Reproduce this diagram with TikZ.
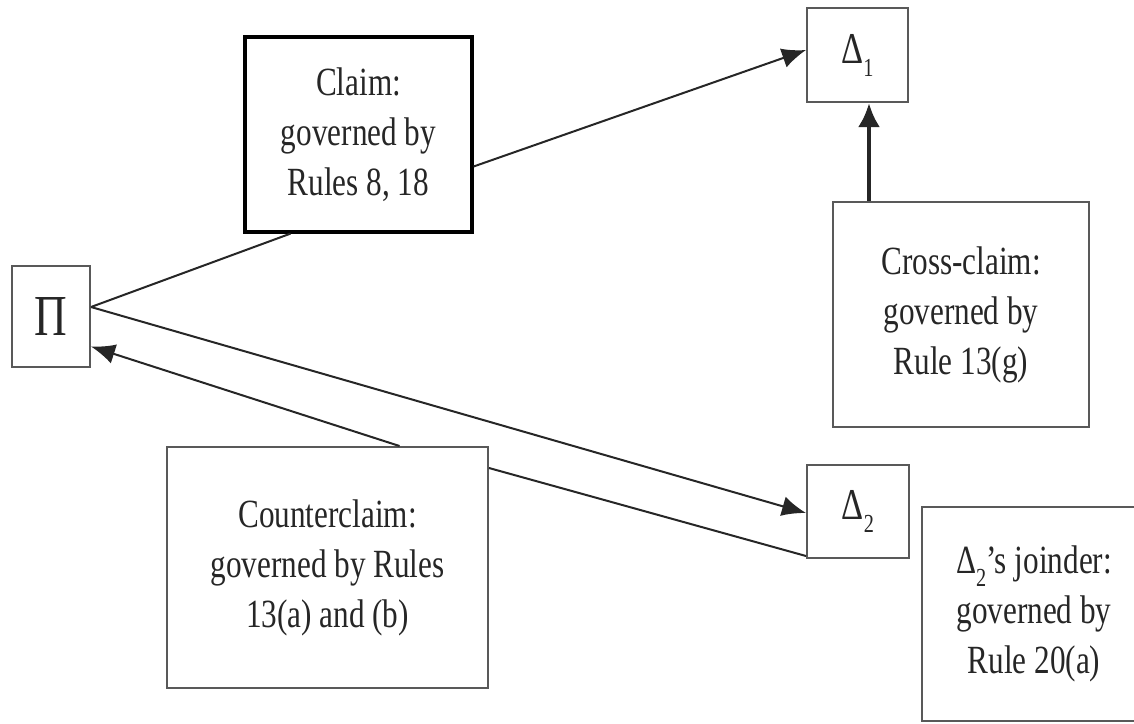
\documentclass[tikz,border=0pt]{standalone}
\usepackage{fontspec}
\setmainfont{Liberation Serif}[FakeStretch=0.78]
\usetikzlibrary{arrows.meta}

\newcommand{\dsub}[1]{\raisebox{-6.5pt}{\fontsize{13}{13}\selectfont #1}}

\begin{document}
\begin{tikzpicture}[
		x=0.5pt, y=-0.5pt,
		box/.style	={ draw=black!65, line width=1pt, inner sep=0pt,
			align=center, text=black!85,
			font=\fontsize{20}{25}\selectfont,
		},
		claimbox/.style	={ box, draw=black, line width=1.6pt,
		},
		wire/.style	={ line width=1pt, draw=black!85,
		},
		flow/.style	={ wire, -{Latex[length=12pt, width=10pt]},
		},
	]

	\useasboundingbox (0,0) rectangle (1134,723);

	% draw parties
	\node [box, minimum width=39pt, minimum height=50.5pt,
		font=\fontsize{29}{29}\selectfont] (pi) at (51,316.5) {Π};
	\node [box, minimum width=50.5pt, minimum height=47pt,
		font=\fontsize{22}{22}\selectfont] (delta1) at (857.5,55) {Δ\dsub{1}};
	\node [box, minimum width=51pt, minimum height=46.5pt,
		font=\fontsize{22}{22}\selectfont] (delta2) at (858,511.5) {Δ\dsub{2}};

	% draw pleadings
	\node [claimbox, minimum width=113.5pt, minimum height=97.5pt] (claim) at (358.5,134.5)
		{Claim:\\governed by\\Rules 8, 18};
	\node [box, minimum width=128pt, minimum height=112.5pt] (cross) at (961,314.5)
		{Cross-claim:\\governed by\\Rule 13(g)};
	\node [box, minimum width=160.5pt, minimum height=120.5pt] (counter) at (327.5,567.5)
		{Counterclaim:\\governed by Rules\\13(a) and (b)};
	\node [box, minimum width=112pt, minimum height=107pt] (joinder) at (1034,614)
		{Δ\dsub{2}’s joinder:\\governed by\\Rule 20(a)};

	% draw claim against delta1
	\draw [wire] ([yshift=4.75pt]pi.east) -- ([xshift=-34pt]claim.south);
	\draw [flow] ([yshift=-16pt]claim.east) -- ([yshift=2.5pt]delta1.west);

	% draw cross-claim
	\coordinate (xc) at ([xshift=-46pt]cross.north);
	\draw [flow, line width=2.2pt, -{Latex[length=12pt, width=11pt]}] (xc) -- (xc |- delta1.south);

	% draw claim against delta2 and counterclaim
	\draw [flow] ([yshift=4.75pt]pi.east) -- ([yshift=-0.75pt]delta2.west);
	\draw [wire] ([yshift=1.5pt]delta2.south west) -- ([yshift=49.75pt]counter.east);
	\draw [flow] ([xshift=36pt]counter.north) -- ([yshift=-15pt]pi.east);

\end{tikzpicture}
\end{document}
